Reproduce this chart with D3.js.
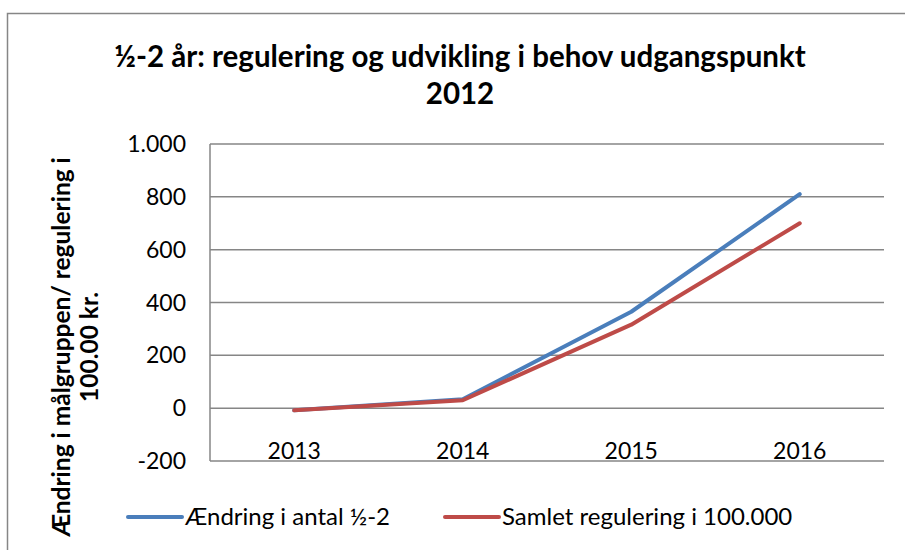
<!DOCTYPE html>
<meta charset="utf-8">
<style>
body { margin: 0; background: #fff; }
svg { display: block; font-family: Lato, 'Open Sans', sans-serif; }
.grid line { stroke: #868686; stroke-width: 1.5; }
.title { font-size: 29.5px; font-weight: bold; }
.ytitle { font-size: 24.5px; font-weight: bold; }
.tick-label { font-size: 23px; }
.legend { font-size: 24px; }
</style>
<body>
<div id="chart"></div>
<script src="https://cdn.jsdelivr.net/npm/d3@7"></script>
<script>
var years = ['2013', '2014', '2015', '2016'];
var antal = [-8, 34, 365, 810];
var regulering = [-8, 30, 316, 700];
var yTicks = [-200, 0, 200, 400, 600, 800, 1000];

var seriesNames = ['Ændring i antal ½-2', 'Samlet regulering i 100.000'];
var colors = ['#4a7ebb', '#be4b48'];

var svg = d3.select('#chart').append('svg')
    .attr('width', 905)
    .attr('height', 550);

// chart frame
svg.append('rect')
    .attr('x', 7.5).attr('y', 13.5)
    .attr('width', 920).attr('height', 560)
    .attr('fill', 'none')
    .attr('stroke', '#868686')
    .attr('stroke-width', 1.5);

var plotL = 210, plotR = 884, plotT = 144, plotB = 461;

var x = d3.scaleBand().domain(years).range([plotL, plotR]);
var y = d3.scaleLinear().domain([-200, 1000]).range([plotB, plotT]);

// danish style: dot as thousands separator, plain hyphen for minus
var fmt = function(d) { return d3.format(',')(d).replace(',', '.').replace('−', '-'); };

// gridlines
svg.append('g').attr('class', 'grid')
  .selectAll('line').data(yTicks).enter().append('line')
    .attr('x1', plotL).attr('x2', plotR)
    .attr('y1', function(d) { return y(d); })
    .attr('y2', function(d) { return y(d); });

svg.append('line')
    .attr('x1', plotL).attr('x2', plotL)
    .attr('y1', plotT).attr('y2', plotB)
    .attr('stroke', '#868686').attr('stroke-width', 1.5);

// y tick labels
svg.append('g').selectAll('text').data(yTicks).enter().append('text')
    .attr('class', 'tick-label')
    .attr('x', 186)
    .attr('y', function(d) { return y(d); })
    .attr('dy', '0.35em')
    .attr('text-anchor', 'end')
    .text(fmt);

// x tick labels
svg.append('g').selectAll('text').data(years).enter().append('text')
    .attr('class', 'tick-label')
    .attr('x', function(d) { return x(d) + x.bandwidth() / 2; })
    .attr('y', 459)
    .attr('text-anchor', 'middle')
    .text(function(d) { return d; });

// lines
var line = d3.line()
    .x(function(d, i) { return x(years[i]) + x.bandwidth() / 2; })
    .y(function(d) { return y(d); });

[antal, regulering].forEach(function(s, i) {
  svg.append('path')
      .datum(s)
      .attr('d', line)
      .attr('fill', 'none')
      .attr('stroke', colors[i])
      .attr('stroke-width', 4)
      .attr('stroke-linecap', 'round')
      .attr('stroke-linejoin', 'round');
});

// title
svg.append('text').attr('class', 'title')
    .attr('x', 460).attr('y', 67)
    .attr('text-anchor', 'middle')
    .text('½-2 år: regulering og udvikling i behov udgangspunkt');
svg.append('text').attr('class', 'title')
    .attr('x', 460).attr('y', 104)
    .attr('text-anchor', 'middle')
    .text('2012');

// y axis title
var yt = svg.append('text').attr('class', 'ytitle')
    .attr('transform', 'translate(70,347) rotate(-90)')
    .attr('text-anchor', 'middle');
yt.append('tspan').attr('x', 0).attr('y', 0).text('Ændring i målgruppen/ regulering i');
yt.append('tspan').attr('x', 0).attr('y', 28).text('100.00 kr.');

// legend
var legendX = [128, 445];
seriesNames.forEach(function(name, i) {
  svg.append('line')
      .attr('x1', legendX[i]).attr('x2', legendX[i] + 54)
      .attr('y1', 517).attr('y2', 517)
      .attr('stroke', colors[i])
      .attr('stroke-width', 4)
      .attr('stroke-linecap', 'round');
  svg.append('text').attr('class', 'legend')
      .attr('x', legendX[i] + 57)
      .attr('y', 517)
      .attr('dy', '0.35em')
      .text(name);
});
</script>
</body>
